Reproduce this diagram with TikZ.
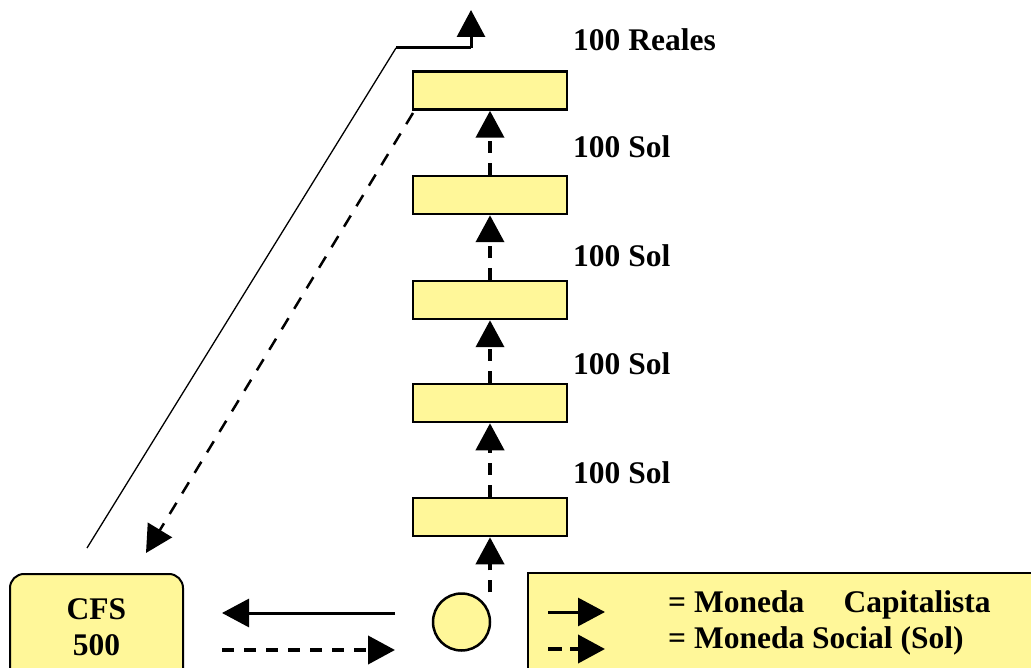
\documentclass[tikz,border=0pt]{standalone}
\usepackage{fontspec}
\setmainfont{Liberation Serif}
\usetikzlibrary{arrows.meta}
\definecolor{paleyel}{RGB}{255,247,153}
\tikzset{
  bx/.style={draw, line width=2.5pt, fill=paleyel, minimum width=154pt, minimum height=38pt, inner sep=0pt},
  lbl/.style={anchor=west, inner sep=0pt, font=\bfseries\fontsize{31.5}{34}\selectfont},
  tip/.style={-{Triangle[length=27pt,width=28pt]}},
  sol/.style={tip, line width=3pt},
  soc/.style={tip, line width=4pt, dash pattern=on 12pt off 10pt},
}
\begin{document}
\begin{tikzpicture}[x=1pt,y=-1pt]
\useasboundingbox (0,0) rectangle (1031,668);
% legend
\fill[paleyel] (528,573) rectangle (1040,675);
\draw[line width=2pt] (1040,573) -- (528,573) -- (528,675);
% boxes
\node[bx] (b1) at (490,90.5) {};
\node[bx] (b2) at (490,195) {};
\node[bx] (b3) at (490,300) {};
\node[bx] (b4) at (490,403) {};
\node[bx] (b5) at (490,517) {};
\node[draw, line width=2.5pt, fill=paleyel, circle, minimum size=57pt, inner sep=0pt] (c) at (461.5,622) {};
\node[draw, line width=2pt, fill=paleyel, rounded corners=14pt, minimum width=173pt, minimum height=110pt, inner sep=0pt] (cfs) at (96.5,629) {};
\node[font=\bfseries\fontsize{31.5}{36}\selectfont, align=center] (cfst) at (96.5,627) {CFS\\500};
% labels
\node[lbl] (l0) at (573,40) {100 Reales};
\node[lbl] (l1) at (573,147) {100 Sol};
\node[lbl] (l2) at (573,256) {100 Sol};
\node[lbl] (l3) at (573,364) {100 Sol};
\node[lbl] (l4) at (573,473) {100 Sol};
% vertical dashed arrows
\draw[soc] (b5.south |- c.north) -- (b5.south);
\draw[soc] (b5.north) -- (b4.south);
\draw[soc] (b4.north) -- (b3.south);
\draw[soc] (b3.north) -- (b2.south);
\draw[soc] (b2.north) -- (b1.south);
% horizontal arrows
\coordinate (s1) at (395,613);
\coordinate (e1) at (222,613);
\draw[sol] (s1) -- (e1);
\coordinate (s2) at (222,650);
\coordinate (e2) at (395,650);
\draw[soc] (s2) -- (e2);
% long lines
\coordinate (p0) at (87,548);
\coordinate (p1) at (396,48);
\coordinate (p2) at (471,48);
\coordinate (p3) at (471,10);
\draw[line width=1.3pt] (p0) -- (p1);
\draw[line width=3pt] (p1) -- (p2);
\draw[sol] (p2) -- (p3);
\coordinate (q0) at (413,113);
\coordinate (q1) at (146,553);
\draw[tip, line width=2.5pt, dash pattern=on 13pt off 11pt] (q0) -- (q1);
% legend content
\coordinate (la) at (548,612);
\coordinate (lb) at (605,612);
\draw[sol] (la) -- (lb);
\coordinate (lc) at (548,649);
\coordinate (ld) at (605,649);
\draw[soc, dash pattern=on 14pt off 8pt] (lc) -- (ld);
\node[lbl] (t1) at (668,605) {= Moneda\hspace{1em} Capitalista};
\node[lbl] (t2) at (668,641) {= Moneda Social (Sol)};
\end{tikzpicture}
\end{document}
